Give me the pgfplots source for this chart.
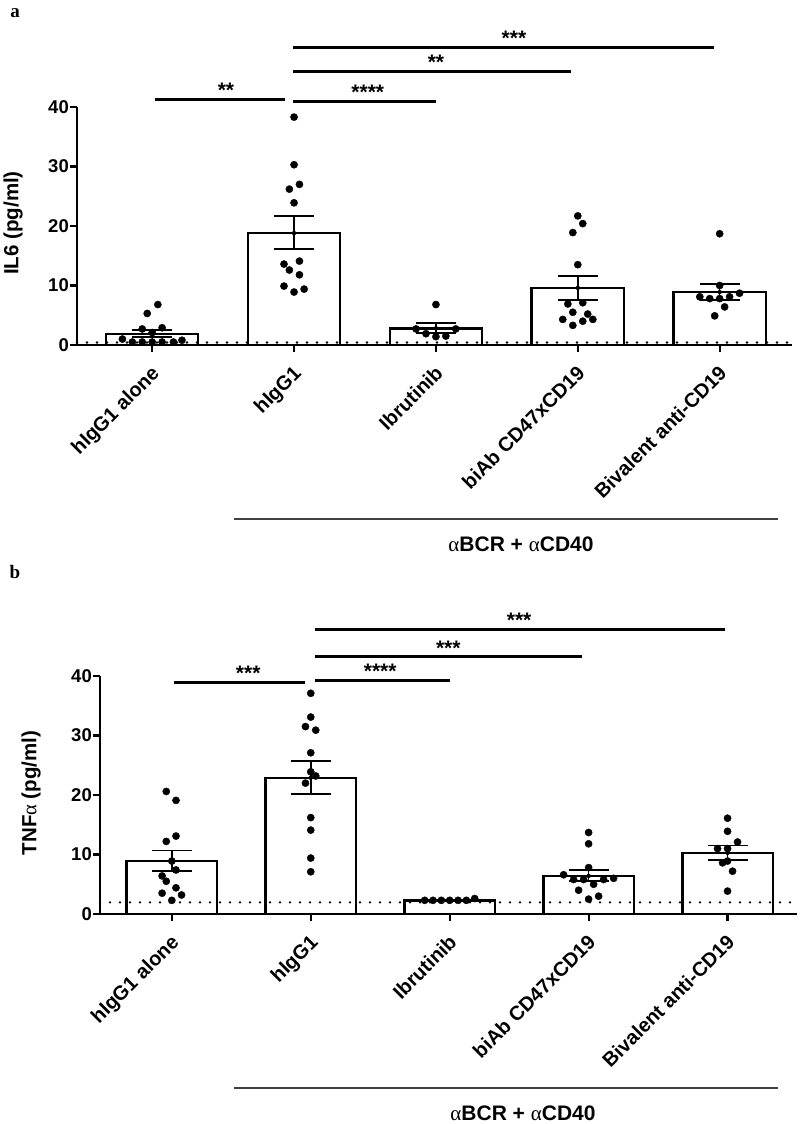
\documentclass[border=0pt]{standalone}
\usepackage{pgfplots}
\pgfplotsset{compat=1.18}
\usepackage{fontspec}
\setmainfont{Liberation Sans}
\newfontfamily\serifgreek{Liberation Serif}
\newcommand{\al}{{\serifgreek\mdseries α}}
\tikzset{
  sig/.style={line width=3pt, black},
  star/.style={font=\fontsize{21}{22}\selectfont\bfseries, anchor=base, inner sep=0pt},
}
\pgfplotsset{
  panel/.style={
    scale only axis, height=238pt, anchor=south west,
    axis x line=bottom, axis y line=left,
    axis line style={-, line width=2.4pt},
    ymin=0, ymax=40, ytick={0,10,20,30,40},
    xtick={0,1,2,3,4},
    xticklabels={hIgG1 alone, hIgG1, Ibrutinib, biAb CD47xCD19, Bivalent anti-CD19},
    tick align=outside, major tick length=7pt,
    tick style={line width=2.2pt, black},
    clip=false,
    /pgf/number format/assume math mode=true,
    yticklabel style={font=\fontsize{18.5}{20}\selectfont\bfseries, inner sep=1pt},
    xticklabel style={font=\fontsize{20}{22}\selectfont\bfseries, rotate=45, anchor=north east, inner sep=0pt, xshift=-10pt, yshift=-7pt},
  },
  barsty/.style={ybar, bar width=0.65, fill=white, draw=black, line width=2.4pt},
  dotline/.style={line width=2.6pt, dash pattern=on 0pt off 10pt, line cap=round, black},
  errsty/.style={only marks, mark=none, black,
    error bars/.cd, y dir=both, y explicit, error mark=|,
    error bar style={line width=1.6pt, black},
    error mark options={line width=1.6pt, black, mark size=20pt}},
  dotsty/.style={only marks, mark=*, mark size=3.6pt, black},
}
\begin{document}
\begin{tikzpicture}
\path[use as bounding box] (0pt,0pt) rectangle (800pt,-1124pt);

% ---------- panel a ----------
\begin{axis}[panel, width=715pt, at={(77pt,-345pt)}, xmin=-0.53, xmax=4.51]
\addplot[barsty] coordinates {(0,1.9) (1,18.8) (2,2.8) (3,9.6) (4,8.9)};
\addplot[dotline] coordinates {(-0.53,0.42) (4.51,0.42)};
\addplot[errsty] coordinates {
  (0,1.9) += (0,0.65) -= (0,0.55)
  (1,18.8) += (0,2.9) -= (0,2.7)
  (2,2.8) += (0,0.9) -= (0,0.75)
  (3,9.6) += (0,2.0) -= (0,2.0)
  (4,8.9) += (0,1.35) -= (0,1.3)
};
\addplot[dotsty] coordinates {
  (0.04,6.8) (-0.035,5.3) (-0.07,2.7) (0.07,2.9) (0,2.1) (-0.21,1.0)
  (-0.14,0.5) (-0.07,0.5) (0,0.5) (0.07,0.5) (0.15,0.5) (0.21,0.8)
};
\addplot[dotsty] coordinates {
  (1,38.3) (1,30.3) (0.967,26.2) (1.038,27.0) (1,23.9) (0.929,13.6)
  (1.038,14.1) (0.967,12.6) (1.038,11.8) (0.929,9.9) (1,8.9) (1.071,9.4)
};
\addplot[dotsty] coordinates {
  (2,6.8) (1.86,2.7) (2.14,2.7) (1.93,1.9) (2,1.4) (2.07,1.5)
};
\addplot[dotsty] coordinates {
  (3,21.7) (3.035,20.4) (2.965,18.9) (3,13.5) (2.93,6.9) (3.035,7.1)
  (2.965,5.5) (3.07,5.2) (2.894,4.3) (3.106,4.3) (3.035,4.0) (2.965,3.3)
};
\addplot[dotsty] coordinates {
  (4,18.7) (4,10.0) (4.14,8.7) (3.86,8.1) (3.93,7.8) (4,7.8) (4.07,8.1) (4.035,6.4) (3.965,4.9)
};
\draw[sig] (axis cs:0.018,41.3) -- (axis cs:0.935,41.3);
\draw[sig] (axis cs:0.996,41.0) -- (axis cs:2.0,41.0);
\draw[sig] (axis cs:0.996,46.0) -- (axis cs:2.95,46.0);
\draw[sig] (axis cs:0.996,50.0) -- (axis cs:3.96,50.0);
\node[star] at (axis cs:0.52,41.6) {**};
\node[star] at (axis cs:1.52,41.3) {****};
\node[star] at (axis cs:2.0,46.3) {**};
\node[star] at (axis cs:2.55,50.3) {***};
\end{axis}

% ---------- panel b ----------
\begin{axis}[panel, width=697pt, at={(100pt,-914pt)}, xmin=-0.517, xmax=4.5]
\addplot[barsty] coordinates {(0,8.9) (1,22.9) (2,2.25) (3,6.4) (4,10.3)};
\addplot[dotline] coordinates {(-0.517,1.95) (4.5,1.95)};
\addplot[errsty] coordinates {
  (0,8.9) += (0,1.8) -= (0,1.7)
  (1,22.9) += (0,2.8) -= (0,2.7)
  (2,2.25) += (0,0.06) -= (0,0.06)
  (3,6.4) += (0,1.0) -= (0,0.9)
  (4,10.3) += (0,1.2) -= (0,1.2)
};
\addplot[dotsty] coordinates {
  (-0.04,20.6) (0.03,19.1) (0.03,13.1) (-0.04,12.2) (0,8.9) (0.03,7.4)
  (-0.07,6.4) (-0.04,5.5) (0.03,4.4) (-0.07,3.5) (0.07,3.2) (0,2.3)
};
\addplot[dotsty] coordinates {
  (1,37.1) (1,33.1) (0.962,31.5) (1.036,30.9) (1,27.1) (1,23.9)
  (1.036,23.2) (0.962,22.0) (1,16.2) (1,14.1) (1,9.4) (1,7.1)
};
\addplot[dotsty] coordinates {
  (1.82,2.3) (1.88,2.3) (1.94,2.3) (2,2.3) (2.06,2.3) (2.12,2.3) (2.18,2.6)
};
\addplot[dotsty] coordinates {
  (3,13.7) (3,11.8) (3,7.8) (2.82,6.6) (2.892,5.8) (2.964,5.8)
  (3.108,5.8) (3.18,6.0) (3.036,5.0) (2.928,4.0) (3.072,3.0) (3,2.5)
};
\addplot[dotsty] coordinates {
  (4,16.1) (4,13.9) (4.072,12.1) (3.928,11.0) (4,11.0) (4,8.9) (3.964,8.6) (4.036,7.2) (4,3.85)
};
\draw[sig] (axis cs:0.014,38.9) -- (axis cs:0.955,38.9);
\draw[sig] (axis cs:1.03,39.3) -- (axis cs:2.0,39.3);
\draw[sig] (axis cs:1.03,43.2) -- (axis cs:2.95,43.2);
\draw[sig] (axis cs:1.03,47.9) -- (axis cs:3.98,47.9);
\node[star] at (axis cs:0.55,39.2) {***};
\node[star] at (axis cs:1.5,39.6) {****};
\node[star] at (axis cs:1.99,43.5) {***};
\node[star] at (axis cs:2.5,48.2) {***};
\end{axis}

% labels
\node[font=\fontsize{19}{20}\selectfont\bfseries\serifgreek] at (15pt,-13pt) {a};
\node[font=\fontsize{19}{20}\selectfont\bfseries\serifgreek] at (15pt,-572pt) {b};
\node[rotate=90, font=\fontsize{20.5}{22}\selectfont\bfseries] at (13pt,-223pt) {IL6 (pg/ml)};
\node[rotate=90, font=\fontsize{20.5}{22}\selectfont\bfseries] at (31pt,-793pt) {TNF\al\ (pg/ml)};
\draw[line width=2pt, black!75] (234pt,-519.3pt) -- (778pt,-519.3pt);
\draw[line width=2pt, black!75] (234pt,-1087.7pt) -- (778pt,-1087.7pt);
\node[font=\fontsize{21}{22}\selectfont\bfseries, anchor=base, inner sep=0pt] at (521pt,-551pt) {\al BCR + \al CD40};
\node[font=\fontsize{21}{22}\selectfont\bfseries, anchor=base, inner sep=0pt] at (523pt,-1120pt) {\al BCR + \al CD40};
\end{tikzpicture}
\end{document}
